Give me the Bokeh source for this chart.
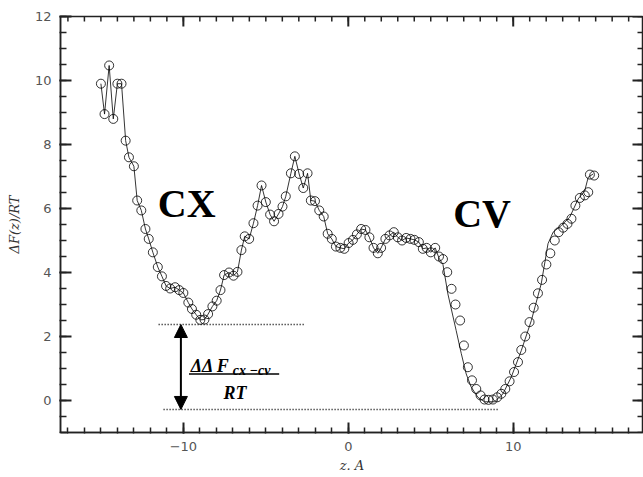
from bokeh.plotting import figure
from bokeh.models import Range1d, FixedTicker, Label, Arrow, NormalHead
from bokeh.embed import file_html
from bokeh.resources import INLINE

# ---- data ----
circle_z = [-15.0, -14.78, -14.5, -14.25, -14.0, -13.75, -13.5, -13.3, -13.0, -12.8,
            -12.55, -12.3, -12.1, -11.85, -11.55, -11.3, -11.05, -10.8, -10.5, -10.25,
            -10.0, -9.7, -9.48, -9.22, -8.97, -8.72, -8.5, -8.24, -7.98, -7.75,
            -7.53, -7.23, -6.96, -6.72, -6.48, -6.28, -6.01, -5.75, -5.5, -5.26,
            -5.0, -4.74, -4.5, -4.23, -3.99, -3.79, -3.48, -3.24, -2.98, -2.73,
            -2.47, -2.27, -2.02, -1.76, -1.49, -1.25, -1.0, -0.75, -0.48, -0.24,
            0.02, 0.28, 0.52, 0.78, 1.04, 1.28, 1.53, 1.79, 1.99, 2.25,
            2.5, 2.76, 3.0, 3.26, 3.51, 3.77, 4.01, 4.28, 4.52, 4.75,
            5.0, 5.27, 5.5, 5.74, 6.0, 6.26, 6.5, 6.78, 7.01, 7.25,
            7.5, 7.76, 8.02, 8.26, 8.5, 8.77, 9.03, 9.28, 9.52, 9.78,
            10.05, 10.29, 10.49, 10.73, 10.99, 11.24, 11.5, 11.75, 12.01, 12.25,
            12.52, 12.76, 13.03, 13.29, 13.53, 13.77, 14.04, 14.34, 14.55, 14.65,
            14.91]
circle_f = [9.9, 8.95, 10.47, 8.8, 9.9, 9.9, 8.12, 7.6, 7.32, 6.25,
            5.94, 5.36, 5.05, 4.63, 4.17, 3.88, 3.58, 3.5, 3.54, 3.45,
            3.36, 3.06, 2.86, 2.68, 2.52, 2.53, 2.7, 2.94, 3.12, 3.45,
            3.92, 4.0, 3.9, 4.02, 4.7, 5.13, 5.05, 5.54, 6.09, 6.72,
            6.2, 5.81, 5.6, 5.83, 6.06, 6.38, 7.1, 7.63, 7.08, 6.64,
            7.1, 6.25, 6.23, 5.94, 5.75, 5.21, 5.05, 4.81, 4.77, 4.74,
            4.92, 5.02, 5.19, 5.36, 5.33, 5.1, 4.77, 4.6, 4.77, 5.05,
            5.16, 5.26, 5.1, 5.0, 5.08, 5.05, 5.02, 4.95, 4.74, 4.77,
            4.63, 4.77, 4.5, 4.42, 4.01, 3.49, 3.0, 2.5, 1.72, 1.04,
            0.63, 0.36, 0.16, 0.03, 0.02, 0.03, 0.1, 0.21, 0.36, 0.6,
            0.89, 1.2, 1.58, 2.0, 2.45, 2.9, 3.35, 3.77, 4.25, 4.6,
            5.0, 5.26, 5.4, 5.52, 5.68, 6.09, 6.33, 6.41, 6.51, 7.06,
            7.03]

line_z = [-15.0, -14.78, -14.5, -14.25, -14.0, -13.75, -13.5, -13.3, -13.0, -12.8,
          -12.55, -12.3, -12.1, -11.85, -11.55, -11.3, -11.05, -10.8, -10.5, -10.25,
          -10.0, -9.7, -9.48, -9.22, -8.97, -8.72, -8.5, -8.24, -7.98, -7.75,
          -7.53, -7.23, -6.96, -6.72, -6.48, -6.28, -6.01, -5.75, -5.5, -5.26,
          -5.0, -4.74, -4.5, -4.23, -3.99, -3.79, -3.48, -3.24, -2.98, -2.73,
          -2.47, -2.27, -2.02, -1.76, -1.49, -1.25, -1.0, -0.75, -0.48, -0.24,
          0.02, 0.28, 0.52, 0.78, 1.04, 1.28, 1.53, 1.79, 1.99, 2.25,
          2.5, 2.76, 3.0, 3.26, 3.51, 3.77, 4.01, 4.28, 4.52, 4.75,
          5.0, 5.27, 5.5, 5.74, 6.04, 6.54, 6.85, 7.15, 7.45, 7.86,
          8.26, 8.87, 9.38, 9.88, 10.49, 11.1, 11.7, 12.11, 12.42, 12.92,
          13.43, 13.94, 14.34, 14.55, 14.85]
line_f = [9.9, 8.95, 10.47, 8.8, 9.9, 9.9, 8.12, 7.6, 7.32, 6.25,
          5.94, 5.36, 5.05, 4.63, 4.17, 3.88, 3.58, 3.5, 3.54, 3.45,
          3.36, 3.06, 2.86, 2.68, 2.52, 2.53, 2.7, 2.94, 3.12, 3.45,
          3.92, 4.0, 3.9, 4.02, 4.7, 5.13, 5.05, 5.54, 6.09, 6.72,
          6.2, 5.81, 5.6, 5.83, 6.06, 6.38, 7.1, 7.63, 7.08, 6.64,
          7.1, 6.25, 6.23, 5.94, 5.75, 5.21, 5.05, 4.81, 4.77, 4.74,
          4.92, 5.02, 5.19, 5.36, 5.33, 5.1, 4.77, 4.6, 4.77, 5.05,
          5.16, 5.26, 5.1, 5.0, 5.08, 5.05, 5.02, 4.95, 4.74, 4.77,
          4.63, 4.77, 4.45, 4.25, 3.33, 2.19, 1.47, 0.83, 0.42, 0.1,
          -0.04, -0.04, 0.21, 0.73, 1.56, 2.5, 3.65, 4.9, 5.26, 5.47,
          5.73, 6.3, 6.56, 6.98, 7.08]

x_major_ticks = [-10, 0, 10]
x_tick_labels = ["\u221210", "0", "10"]
x_minor_ticks = list(range(-17, 18))
y_major_ticks = [0, 2, 4, 6, 8, 10, 12]
y_tick_labels = ["0", "2", "4", "6", "8", "10", "12"]
y_minor_ticks = [v / 2 for v in range(-2, 25)]

# annotation levels: CX minimum and CV minimum reference lines
gap_levels = [2.375, -0.28]
gap_extents = [(-11.5, -2.7), (-11.2, 9.1)]
arrow_x = -10.15
region_labels = ["CX", "CV"]
region_pos = [(-11.55, 6.16), (6.36, 5.84)]

X_LO, X_HI = -17.45, 17.9
Y_LO, Y_HI = -1, 12
W, H = 643, 477
B_LEFT, B_RIGHT, B_TOP, B_BOTTOM = 60, 0, 16, 45
DX = (X_HI - X_LO) / (W - B_LEFT - B_RIGHT)
DY = (Y_HI - Y_LO) / (H - B_TOP - B_BOTTOM)

AX = "#222222"
p = figure(width=W, height=H, x_range=Range1d(X_LO, X_HI), y_range=Range1d(Y_LO, Y_HI),
           output_backend="svg", toolbar_location=None,
           min_border_left=B_LEFT, min_border_right=B_RIGHT,
           min_border_top=B_TOP, min_border_bottom=B_BOTTOM)
p.outline_line_color = AX
p.outline_line_width = 1.5
p.xgrid.visible = False
p.ygrid.visible = False

p.xaxis.ticker = FixedTicker(ticks=x_major_ticks, minor_ticks=x_minor_ticks)
p.yaxis.ticker = FixedTicker(ticks=y_major_ticks, minor_ticks=y_minor_ticks)
p.xaxis.major_label_overrides = dict(zip(x_major_ticks, x_tick_labels))
p.yaxis.major_label_overrides = dict(zip(y_major_ticks, y_tick_labels))
for ax in (p.xaxis, p.yaxis):
    ax.axis_line_color = AX
    ax.axis_line_width = 1.5
    ax.major_tick_line_color = AX
    ax.minor_tick_line_color = AX
    ax.major_tick_line_width = 2
    ax.minor_tick_line_width = 1.5
    ax.major_tick_out = 1
    ax.minor_tick_out = 1
    ax.major_label_text_font = "DejaVu Sans"
    ax.major_label_text_font_size = "13px"
    ax.major_label_text_color = "#555555"
    ax.axis_label_text_font = "DejaVu Serif"
    ax.axis_label_text_font_style = "italic"
    ax.axis_label_text_font_size = "13px"
    ax.axis_label_text_color = "#333333"
p.xaxis.major_tick_in = 10
p.xaxis.minor_tick_in = 5
p.yaxis.major_tick_in = 11
p.yaxis.minor_tick_in = 6
p.xaxis.major_label_standoff = 8
p.yaxis.major_label_standoff = 8
p.xaxis.axis_label = "z. A"
p.yaxis.axis_label = "\u0394F(z)/RT"
p.xaxis.axis_label_standoff = 4
p.yaxis.axis_label_standoff = 10

# inward tick marks on the top and right frame edges
for ticks, px, lw in ((x_minor_ticks, 5, 1.5), (x_major_ticks, 10, 2)):
    n = len(ticks)
    p.segment(x0=ticks, y0=[Y_HI] * n, x1=ticks, y1=[Y_HI - px * DY] * n,
              line_color=AX, line_width=lw)
for ticks, px, lw in ((y_minor_ticks, 6, 1.5), (y_major_ticks, 11, 2)):
    n = len(ticks)
    p.segment(x0=[X_HI] * n, y0=ticks, x1=[X_HI - px * DX] * n, y1=ticks,
              line_color=AX, line_width=lw)

# data
p.line(line_z, line_f, line_color="black", line_width=0.8)
p.scatter(circle_z, circle_f, marker="circle", size=9, fill_color=None,
          line_color="black", line_width=0.8)

# dotted reference levels
p.segment(x0=[e[0] for e in gap_extents], y0=gap_levels,
          x1=[e[1] for e in gap_extents], y1=gap_levels,
          line_color="black", line_width=1.5, line_dash="1 2")

# double-headed arrow
p.add_layout(Arrow(start=NormalHead(size=13, fill_color="black", line_color="black"),
                   end=NormalHead(size=13, fill_color="black", line_color="black"),
                   x_start=arrow_x, y_start=gap_levels[1], x_end=arrow_x, y_end=gap_levels[0],
                   line_color="black", line_width=2))

for txt, (lx, ly) in zip(region_labels, region_pos):
    p.add_layout(Label(x=lx, y=ly, text=txt, text_font="Liberation Serif",
                       text_font_style="bold", text_font_size="40px",
                       text_color="black", text_baseline="alphabetic"))

# fraction  ΔΔF_{cx-cv} / RT
frac_bar = (-9.66, -4.19, 0.83)
p.segment(x0=[frac_bar[0]], y0=[frac_bar[2]], x1=[frac_bar[1]], y1=[frac_bar[2]],
          line_color="black", line_width=1.5)
p.add_layout(Label(x=-9.55, y=1.07, text="\u0394\u0394 F", text_font="Liberation Serif",
                   text_font_style="bold italic", text_font_size="18px",
                   text_color="black", text_baseline="alphabetic"))
p.add_layout(Label(x=-7.0, y=0.95, text="cx \u2212cv", text_font="Liberation Serif",
                   text_font_style="bold italic", text_font_size="14px",
                   text_color="black", text_baseline="alphabetic"))
p.add_layout(Label(x=-6.87, y=0.25, text="RT", text_font="Liberation Serif",
                   text_font_style="bold italic", text_font_size="18px",
                   text_color="black", text_align="center", text_baseline="alphabetic"))

open("out.html", "w").write(file_html(p, INLINE))
